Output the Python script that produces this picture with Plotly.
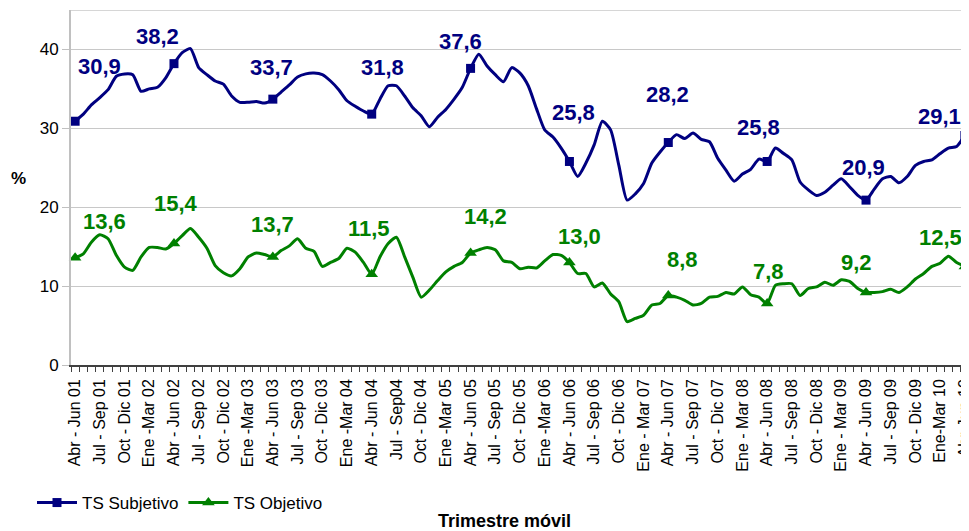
import plotly.graph_objects as go

# rolling quarters, monthly from Abr-Jun 01 to Abr-Jun 10 (109 points)
subjetivo = [
    30.9, 31.8, 33.0, 33.9, 34.9, 36.6, 36.9, 36.8, 34.7, 35.0, 35.2, 36.4,
    38.2, 39.6, 40.1, 37.7, 36.8, 36.0, 35.6, 34.1, 33.3, 33.3, 33.4, 33.2,
    33.7, 34.6, 35.5, 36.5, 36.9, 37.0, 36.8, 36.0, 34.9, 33.5, 32.8, 32.2,
    31.8, 33.7, 35.4, 35.4, 34.1, 32.6, 31.6, 30.2, 31.4, 32.4, 33.7, 35.2,
    37.6, 39.4, 37.9, 36.8, 35.9, 37.7, 37.0, 35.4, 32.5, 29.8, 28.9, 27.5,
    25.8, 23.9, 25.6, 27.9, 30.9, 29.8, 25.3, 20.9, 21.7, 23.0, 25.6, 27.0,
    28.2, 29.2, 28.7, 29.4, 28.6, 28.3, 26.2, 24.7, 23.3, 24.2, 24.8, 26.1,
    25.8, 27.5, 26.8, 26.0, 23.2, 22.2, 21.5, 21.9, 22.8, 23.6, 22.6, 21.5,
    20.9, 22.3, 23.6, 23.9, 23.1, 23.9, 25.3, 25.8, 26.0, 26.8, 27.5, 27.7,
    29.1,
]
objetivo = [
    13.6, 14.1, 15.6, 16.5, 16.0, 13.9, 12.4, 12.0, 13.7, 14.9, 14.9, 14.7,
    15.4, 16.4, 17.3, 16.2, 14.8, 12.6, 11.7, 11.3, 12.2, 13.7, 14.2, 14.0,
    13.7, 14.5, 15.1, 16.0, 14.8, 14.4, 12.5, 13.0, 13.5, 14.8, 14.3, 13.0,
    11.5, 13.7, 15.4, 16.2, 13.7, 11.1, 8.6, 9.5, 10.7, 11.8, 12.5, 13.0,
    14.2, 14.6, 14.9, 14.6, 13.2, 13.0, 12.2, 12.4, 12.3, 13.2, 14.0, 13.9,
    13.0, 11.6, 11.6, 9.9, 10.4, 9.0, 8.0, 5.5, 5.9, 6.3, 7.6, 7.8,
    8.8, 8.6, 8.2, 7.6, 7.8, 8.6, 8.7, 9.2, 9.0, 9.9, 8.9, 8.6,
    7.8, 10.1, 10.3, 10.3, 8.8, 9.7, 9.9, 10.5, 10.1, 10.8, 10.6, 9.7,
    9.2, 9.2, 9.3, 9.6, 9.2, 9.9, 10.9, 11.6, 12.5, 12.9, 13.8, 13.0,
    12.5,
]
tick_labels = [
    "Abr - Jun 01", "Jul - Sep 01", "Oct - Dic 01", "Ene -Mar 02",
    "Abr - Jun 02", "Jul - Sep 02", "Oct - Dic 02", "Ene -Mar 03",
    "Abr - Jun 03", "Jul - Sep 03", "Oct - Dic 03", "Ene -Mar 04",
    "Abr - Jun 04", "Jul - Sep04", "Oct - Dic 04", "Ene -Mar 05",
    "Abr - Jun 05", "Jul - Sep 05", "Oct - Dic 05", "Ene -Mar 06",
    "Abr - Jun 06", "Jul - Sep 06", "Oct - Dic 06", "Ene - Mar 07",
    "Abr - Jun 07", "Jul - Sep 07", "Oct - Dic 07", "Ene - Mar 08",
    "Abr - Jun 08", "Jul - Sep 08", "Oct - Dic 08", "Ene - Mar 09",
    "Abr - Jun 09", "Jul - Sep 09", "Oct - Dic 09", "Ene-Mar 10",
    "Abr-Jun 10",
]
# label offsets (px) for the yearly Abr-Jun points
sub_shift = [(24, 55), (-16, 27), (-1, 32), (11, 47), (-10, 27),
             (4, 49), (-1, 48), (-9, 34), (-3, 33), (-25, 19)]
obj_shift = [(29, 36), (2, 40), (0, 32), (-3, 46), (15, 36),
             (10, 26), (14, 36), (1, 32), (-10, 30), (-24, 29)]

BLUE = "#000080"
GREEN = "#008000"
FONT = "Liberation Sans, Arial, sans-serif"

# the page body adds 8px around the figure, so the figure is 8px smaller
W, H = 961, 523
L, T, B = 63, 2, 166
PW, PH = W - L, H - T - B

x = list(range(len(subjetivo)))
mark_x = x[::12]

fig = go.Figure()


def add_series(values, name, color, symbol, msize, shifts):
    fig.add_trace(go.Scatter(
        x=x, y=values, mode="lines", showlegend=False,
        line=dict(color=color, width=3, shape="spline", smoothing=0.6),
        hoverinfo="skip"))
    fig.add_trace(go.Scatter(
        x=mark_x, y=values[::12], mode="markers", showlegend=False,
        cliponaxis=False,
        marker=dict(color=color, symbol=symbol, size=msize)))
    fig.add_trace(go.Scatter(
        x=[None], y=[None], mode="lines+markers", name=name,
        line=dict(color=color, width=3),
        marker=dict(color=color, symbol=symbol, size=msize)))
    for xi, (dx, dy) in zip(mark_x, shifts):
        v = values[xi]
        fig.add_annotation(
            x=xi, y=v, text=f"{v:.1f}".replace(".", ","), showarrow=False,
            xshift=dx, yshift=dy,
            font=dict(family=FONT, size=22, color=color, weight="bold"))


add_series(subjetivo, "TS Subjetivo", BLUE, "square", 9, sub_shift)
add_series(objetivo, "TS Objetivo", GREEN, "triangle-up", 11, obj_shift)

# plot area top border
fig.add_shape(type="line", xref="paper", x0=0, x1=1, yref="y", y0=45, y1=45,
              line=dict(color="#c8c8c8", width=1.5))

fig.add_annotation(text="%", showarrow=False, xref="paper", yref="paper",
                   x=(10 - L) / PW, y=(H - B - 170) / PH,
                   xanchor="center", yanchor="middle",
                   font=dict(family=FONT, size=17, color="black", weight="bold"))
fig.add_annotation(text="Trimestre móvil", showarrow=False,
                   xref="paper", yref="paper",
                   x=(496 - L) / PW, y=(H - B - 513) / PH, yanchor="middle",
                   font=dict(family=FONT, size=18, color="black", weight="bold"))

fig.update_layout(
    width=W, height=H,
    margin=dict(l=L, r=0, t=T, b=B),
    plot_bgcolor="white", paper_bgcolor="white",
    font=dict(family=FONT, color="black"),
    legend=dict(orientation="h", x=(24 - L) / PW, xanchor="left",
                y=(H - B - 495) / PH, yanchor="middle",
                font=dict(size=17), itemwidth=40, bgcolor="rgba(0,0,0,0)"),
)
fig.update_xaxes(
    range=[-0.5, len(x) - 0.5],
    tickmode="array", tickvals=x[::3], ticktext=tick_labels,
    tickangle=-90, tickfont=dict(size=16), ticklabeloverflow="allow",
    ticks="outside", ticklen=6, tickcolor="rgba(0,0,0,0)",
    showgrid=False, zeroline=False, automargin=False,
    showline=True, linecolor="#404040", linewidth=1.5,
    minor=dict(tickmode="linear", tick0=-0.5, dtick=1, ticks="outside",
               ticklen=5, tickcolor="#404040", showgrid=False),
)
fig.update_yaxes(
    range=[0, 45], tickvals=[0, 10, 20, 30, 40],
    tickfont=dict(size=17), ticks="outside", ticklen=7, tickcolor="#c0c0c0",
    showgrid=True, gridcolor="#c8c8c8", gridwidth=1, zeroline=False,
    showline=True, linecolor="#c0c0c0", linewidth=2,
)

fig.write_html("out.html")
